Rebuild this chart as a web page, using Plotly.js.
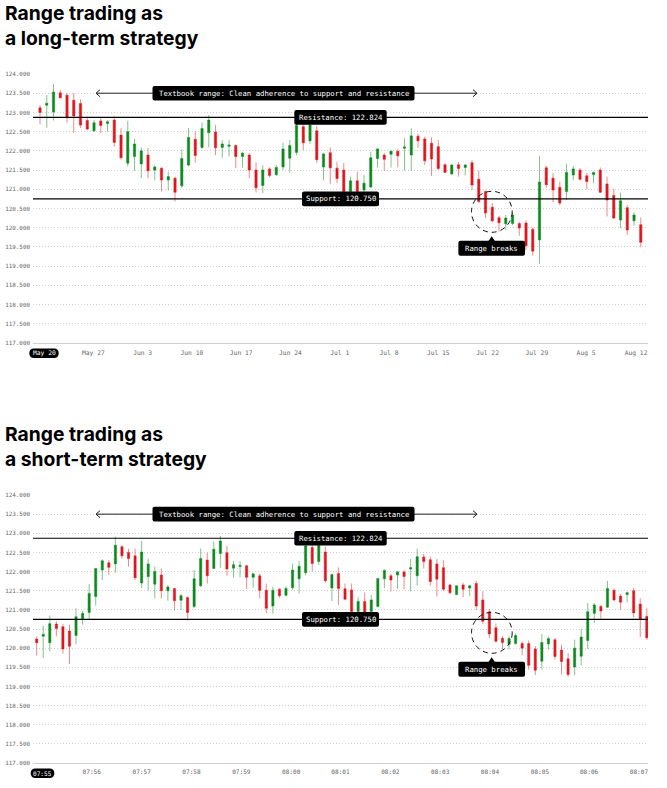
<!DOCTYPE html>
<html><head><meta charset="utf-8">
<script src="https://cdn.plot.ly/plotly-3.0.1.min.js"></script>
<style>html,body{margin:0;padding:0;background:#fff}#chart{width:667px;height:788px}</style>
</head><body><div id="chart"></div>
<script>
// ---- top chart: long-term (daily) candles ----
const longOpen=[123.12,123.19,123.01,123.51,123.45,123.32,123.23,122.79,122.52,122.78,122.71,122.80,122.41,121.68,121.85,121.66,121.89,121.50,121.55,121.24,121.29,121.09,121.63,122.30,122.09,122.47,122.49,122.09,122.12,122.14,121.85,121.89,121.50,121.10,121.53,121.38,121.58,121.81,121.96,122.63,122.26,122.52,121.58,121.95,121.55,121.50,120.94,121.22,120.98,121.06,121.80,121.89,121.91,121.99,122.07,121.89,122.38,122.31,122.20,122.11,121.64,121.40,121.64,121.57,121.69,121.26,120.94,120.53,120.26,120.10,120.11,120.11,120.12,119.96,119.68,121.56,121.29,121.05,120.94,121.37,121.50,121.35,121.38,121.50,121.14,120.84,120.20,120.52,120.18,120.08];
const longClose=[123.00,123.24,123.53,123.38,122.86,122.91,122.67,122.57,122.73,122.66,122.76,122.22,121.82,122.50,122.18,122.00,121.48,121.58,121.24,121.33,120.92,121.80,122.35,121.88,122.58,122.80,122.08,122.18,122.15,121.85,121.94,121.50,121.04,121.50,121.36,121.57,122.05,122.14,122.66,122.21,122.67,121.77,121.92,121.56,121.28,120.94,121.22,120.94,121.16,121.82,122.05,121.78,121.99,121.87,122.10,122.39,122.26,121.74,121.79,121.54,121.44,121.63,121.54,121.63,121.11,120.68,120.38,120.18,120.13,120.25,120.33,119.99,119.53,119.39,121.19,121.12,120.98,120.64,121.44,121.53,121.26,121.20,121.44,120.92,120.72,120.25,120.70,119.94,120.33,119.62];
const longHigh=[123.19,123.45,123.74,123.58,123.50,123.50,123.34,122.87,122.80,122.87,122.80,122.91,122.59,122.78,122.31,122.09,122.07,121.63,121.57,121.46,121.33,122.04,122.59,122.50,122.74,122.93,122.67,122.28,122.28,122.17,121.98,121.94,121.70,121.63,121.57,121.63,122.21,122.28,122.95,122.72,122.95,122.65,121.94,122.09,121.72,121.68,121.33,121.46,121.37,121.98,122.07,121.94,122.01,122.04,122.33,122.59,122.44,122.37,122.35,122.28,121.68,121.66,121.71,121.66,121.76,121.49,120.97,120.64,120.31,120.33,120.40,120.16,120.19,120.01,121.87,121.62,121.42,121.20,121.66,121.61,121.55,121.42,121.46,121.57,121.33,121.01,120.91,120.59,120.40,120.27];
const longLow=[122.69,122.60,122.79,123.37,122.73,122.46,122.60,122.54,122.49,122.46,122.50,122.11,121.78,121.59,121.48,121.29,121.29,121.23,120.94,120.97,120.68,121.03,121.59,121.69,122.06,122.09,121.89,121.82,121.85,121.55,121.57,121.29,120.92,120.90,121.31,121.35,121.50,121.43,121.89,122.02,122.18,121.69,121.23,121.14,121.16,120.85,120.85,120.90,120.90,121.03,121.57,121.48,121.57,121.57,121.49,121.49,122.08,121.63,121.35,121.50,121.42,121.37,121.33,121.36,120.98,120.64,120.25,120.14,119.90,119.94,120.07,119.79,119.42,119.27,119.06,121.04,120.66,120.59,120.72,121.24,121.23,121.00,121.16,120.90,120.29,120.22,119.98,119.81,120.05,119.49];
// ---- bottom chart: short-term (intraday) candles ----
const shortOpen=[120.24,120.31,120.14,120.63,120.56,120.45,120.33,120.76,120.93,121.35,122.04,122.23,122.20,122.65,122.50,122.41,121.70,121.87,121.67,121.91,121.50,121.56,121.25,121.32,121.09,121.63,122.30,122.08,122.47,122.49,122.09,122.13,122.15,121.85,121.89,121.51,121.10,121.54,121.38,121.58,121.81,121.97,122.63,122.26,122.51,121.57,121.95,121.55,121.52,120.96,121.22,120.96,121.09,121.81,121.89,121.91,121.99,122.07,121.89,122.38,122.31,122.20,122.10,121.65,121.40,121.65,121.57,121.69,121.26,120.95,120.53,120.26,120.10,120.12,120.12,120.12,119.98,119.66,120.11,120.22,119.95,119.72,119.51,119.79,120.20,120.91,121.09,121.07,121.51,121.36,121.40,121.50,121.15,120.83];
const shortClose=[120.14,120.36,120.64,120.51,119.98,120.05,120.82,120.91,121.43,122.08,122.28,122.11,122.69,122.41,122.34,121.84,122.51,122.20,122.00,121.50,121.60,121.24,121.37,120.93,121.81,122.34,121.89,122.58,122.80,122.07,122.18,122.16,121.85,121.94,121.51,121.04,121.51,121.37,121.56,122.04,122.14,122.67,122.21,122.69,121.76,121.92,121.56,121.28,120.96,121.22,120.91,121.26,121.82,122.03,121.78,121.99,121.87,122.10,122.39,122.26,121.74,121.80,121.54,121.45,121.63,121.54,121.63,121.10,120.70,120.37,120.18,120.15,120.25,120.33,120.00,119.55,119.42,120.15,120.25,119.78,119.65,119.31,120.00,120.29,120.95,121.13,120.97,121.56,121.26,121.20,121.45,120.92,120.76,120.27];
const shortHigh=[120.31,120.59,120.85,120.70,120.63,120.61,121.04,120.98,121.67,122.08,122.32,122.30,122.91,122.69,122.60,122.60,122.80,122.34,122.13,122.08,121.65,121.56,121.42,121.35,122.04,122.60,122.49,122.78,122.93,122.67,122.28,122.28,122.18,121.97,121.95,121.69,121.61,121.56,121.61,122.21,122.28,122.86,122.73,122.86,122.65,121.95,122.11,121.69,121.69,121.33,121.45,121.39,121.82,122.06,121.93,122.02,122.04,122.33,122.60,122.46,122.39,122.33,122.30,121.68,121.63,121.71,121.65,121.76,121.49,121.02,120.64,120.31,120.31,120.39,120.18,120.20,120.05,120.37,120.31,120.26,120.09,119.87,120.22,120.51,121.18,121.18,121.13,121.76,121.56,121.42,121.48,121.57,121.30,121.04];
const shortLow=[119.81,119.74,119.92,120.31,119.86,119.59,120.10,120.61,120.74,121.11,121.78,121.91,121.97,122.34,122.13,121.78,121.57,121.50,121.30,121.29,121.24,120.98,121.00,120.72,121.04,121.59,121.69,122.08,122.10,121.89,121.84,121.85,121.54,121.58,121.30,120.91,120.90,121.32,121.35,121.52,121.43,121.90,122.01,122.17,121.71,121.23,121.13,121.26,120.91,120.87,120.87,120.87,121.07,121.57,121.48,121.55,121.54,121.48,121.63,122.08,121.63,121.35,121.49,121.42,121.38,121.33,121.36,121.00,120.64,120.26,120.15,119.96,119.96,120.09,119.81,119.44,119.30,119.44,119.96,119.70,119.31,119.25,119.29,119.55,119.98,120.66,120.77,121.05,121.22,121.00,121.19,120.80,120.29,120.22];
// ---- axes ----
const longTickPos=[0.6,7.9,15.2,22.5,29.8,37.1,44.4,51.7,59.0,66.3,73.6,80.9,88.3];
const longTickLabels=["May 20","May 27","Jun 3","Jun 10","Jun 17","Jun 24","Jul 1","Jul 8","Jul 15","Jul 22","Jul 29","Aug 5","Aug 12"];
const shortTickPos=[0.85,8.4,16,23.6,31.2,38.8,46.3,53.9,61.5,69.1,76.7,84.2,91.8];
const shortTickLabels=["07:55","07:56","07:57","07:58","07:59","08:00","08:01","08:02","08:03","08:04","08:05","08:06","08:07"];
const priceTicks=[117,117.5,118,118.5,119,119.5,120,120.5,121,121.5,122,122.5,123,123.5,124];
const resistanceLevel=122.87, supportLevel=120.75, arrowLevel=123.5;
const rangeLabel="Textbook range: Clean adherence to support and resistance";
const resistanceLabel="Resistance: 122.824", supportLabel="Support: 120.750", breakLabel="Range breaks";
const titles=["Range trading as<br>a long-term strategy","Range trading as<br>a short-term strategy"];

const W=667,H=788,MONO='"DejaVu Sans Mono", monospace',SANS='Inter, sans-serif';
const RED='#e0161d',GREEN='#0c8a1d',REDW='rgba(224,22,29,.5)',GREENW='rgba(12,138,29,.5)';
const X0=33,X1=648;
const panels=[{top:74,bot:343,xr:[-1.04,90.07]},{top:495,bot:763,xr:[-0.56,93.18]}];
const px=x=>x/W, py=y=>1-y/H;
const rr=(xc,yc,w,h,r)=>{const l=px(xc-w/2),R=px(xc+w/2),t=py(yc-h/2),b=py(yc+h/2),rx=r/W,ry=r/H;
 return `M${l+rx},${t} L${R-rx},${t} Q${R},${t} ${R},${t-ry} L${R},${b+ry} Q${R},${b} ${R-rx},${b} L${l+rx},${b} Q${l},${b} ${l},${b+ry} L${l},${t-ry} Q${l},${t} ${l+rx},${t} Z`;};
const P=(d,f={})=>Object.assign({type:'path',xref:'paper',yref:'paper',path:d,line:{width:0},fillcolor:'#000',layer:'above'},f);
const shapes=[],annotations=[];
const label=(t,x,y,size,color)=>annotations.push({text:t,x:px(x),y:py(y),xref:'paper',yref:'paper',showarrow:false,xanchor:'center',yanchor:'middle',font:{family:MONO,size:size||7.3,color:color||'#fff'}});

panels.forEach((p,k)=>{
  const ya=k?'y2':'y',xa=k?'x2':'x';
  const yPx=v=>p.top+(124-v)/7*(p.bot-p.top);
  [resistanceLevel,supportLevel].forEach(v=>shapes.push({type:'line',xref:xa+' domain',yref:ya,x0:0,x1:1,y0:v,y1:v,line:{color:'#000',width:1.2},layer:'above'}));
  const ay=yPx(arrowLevel);
  shapes.push(P(`M${px(96)},${py(ay)} L${px(477)},${py(ay)}`,{line:{color:'#222',width:1},fillcolor:'rgba(0,0,0,0)'}));
  shapes.push(P(`M${px(100)},${py(ay-3.5)} L${px(96)},${py(ay)} L${px(100)},${py(ay+3.5)}`,{line:{color:'#222',width:1},fillcolor:'rgba(0,0,0,0)'}));
  shapes.push(P(`M${px(473)},${py(ay-3.5)} L${px(477)},${py(ay)} L${px(473)},${py(ay+3.5)}`,{line:{color:'#222',width:1},fillcolor:'rgba(0,0,0,0)'}));
  const boxes=[[283.5,ay,262,14.6,rangeLabel],[340.5,yPx(resistanceLevel),92.4,14.6,resistanceLabel],[340.5,yPx(supportLevel),77,14.8,supportLabel]];
  boxes.forEach(b=>{shapes.push(P(rr(b[0],b[1],b[2],b[3],2)));label(b[4],b[0],b[1]);});
  // dashed circle and pointer label
  const cy=p.top+137.8, by=p.top+174.2;
  shapes.push({type:'circle',xref:'paper',yref:'paper',x0:px(471.5),x1:px(512.2),y0:py(cy+20.5),y1:py(cy-20.5),line:{color:'#111',width:1,dash:'5px,4px'},layer:'above'});
  shapes.push(P(rr(491.7,by,66.7,15,2)));
  shapes.push(P(`M${px(488.5)},${py(by-7.2)} L${px(491.7)},${py(by-12)} L${px(494.9)},${py(by-7.2)} Z`));
  label(breakLabel,491.7,by);
  // highlighted first tick
  const pillY=p.bot+10.2, w=k?23.6:29.4, cx=k?42.5:44;
  shapes.push(P(rr(cx,pillY,w,9.4,4.7)));
  label((k?shortTickLabels:longTickLabels)[0],cx,pillY,k?6.1:6.3);
});
annotations.push({text:titles[1],x:px(3),y:py(419.5),xref:'paper',yref:'paper',showarrow:false,xanchor:'left',yanchor:'top',align:'left',font:{family:SANS,size:19.3,color:'#000',weight:700}});

const candle=(o,h,l,c,xa,ya)=>({type:'candlestick',x:o.map((_,i)=>i),open:o,high:h,low:l,close:c,xaxis:xa,yaxis:ya,whiskerwidth:0,showlegend:false,hoverinfo:'skip',
  increasing:{line:{color:GREENW,width:1},fillcolor:GREEN},decreasing:{line:{color:REDW,width:1},fillcolor:RED}});
const yAxis=(k)=>({domain:[py(panels[k].bot),py(panels[k].top)],range:[117,124],anchor:k?'x2':'x',tickvals:priceTicks,tickformat:'.3f',ticklen:0,ticklabelstandoff:2,
  tickfont:{family:MONO,size:5.9,color:'#666'},showgrid:true,gridcolor:'#d0d0d0',griddash:'1px,2px',gridwidth:1,zeroline:false,showline:false});
const xAxis=(k,pos,lab)=>({domain:[px(X0),px(X1)],range:panels[k].xr,anchor:k?'y2':'y',tickmode:'array',tickvals:pos,ticktext:lab.map((s,i)=>i?s:''),ticklen:0,ticklabelstandoff:3,
  tickfont:{family:MONO,size:k?6.1:6.3,color:'#666'},showgrid:false,zeroline:false,showline:true,linecolor:'#cfcfcf',linewidth:1,rangeslider:{visible:false},fixedrange:true});

Plotly.newPlot('chart',[candle(longOpen,longHigh,longLow,longClose,'x','y'),candle(shortOpen,shortHigh,shortLow,shortClose,'x2','y2')],{
  width:W,height:H,margin:{l:0,r:0,t:0,b:0},paper_bgcolor:'#fff',plot_bgcolor:'#fff',boxgap:0.52,showlegend:false,hovermode:false,
  title:{text:titles[0],x:px(5),xref:'paper',xanchor:'left',y:1,yref:'container',yanchor:'top',pad:{t:19.5},font:{family:SANS,size:19.3,color:'#000',weight:700}},
  xaxis:xAxis(0,longTickPos,longTickLabels),xaxis2:xAxis(1,shortTickPos,shortTickLabels),yaxis:yAxis(0),yaxis2:yAxis(1),shapes,annotations
},{displayModeBar:false,staticPlot:true});
</script></body></html>
